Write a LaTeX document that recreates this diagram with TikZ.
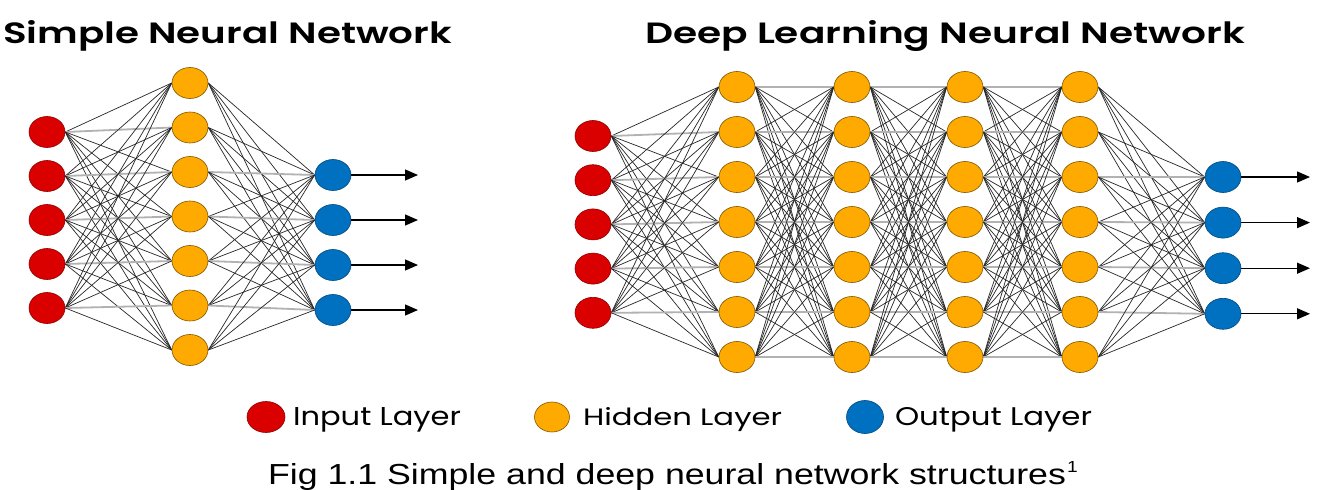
\documentclass[tikz,border=0pt]{standalone}
\usepackage{fontspec}
\usepackage{graphicx}
\setmainfont{Liberation Sans}
\newfontfamily\poppins{Poppins}
\newfontfamily\poppinssb{Poppins SemiBold}
\usetikzlibrary{shapes.geometric,arrows.meta,backgrounds}
\definecolor{inred}{RGB}{218,0,0}
\definecolor{hidor}{RGB}{255,170,0}
\definecolor{outbl}{RGB}{0,112,192}
\tikzset{
  neuron/.style={ellipse,minimum width=36pt,minimum height=31pt,inner sep=0pt,line width=0.6pt},
  inpn/.style={neuron,fill=inred,draw=inred!65!black},
  hidn/.style={neuron,fill=hidor,draw=hidor!50!black},
  outn/.style={neuron,fill=outbl,draw=outbl!65!black},
  edge/.style={draw=black!85,line width=0.7pt},
  hedge/.style={draw=black!30,line width=1.8pt},
  arr/.style={draw=black,line width=1.3pt,-{Triangle[length=13pt,width=11pt]}},
  txt/.style={anchor=base west,inner sep=0pt,outer sep=0pt}
}
\newcommand\connectlayers[5]{%
  \foreach \a in {1,...,#2}{%
    \foreach \b in {1,...,#4}{%
      \pgfmathtruncatemacro\dd{\b-\a-(#5)}%
      \ifnum\dd=0
        \draw[hedge] (#1-\a.east) -- (#3-\b.west);
      \else
        \draw[edge] (#1-\a.east) -- (#3-\b.west);
      \fi
    }%
  }%
}
\begin{document}
\begin{tikzpicture}[x=1pt,y=-1pt]
\useasboundingbox (0,0) rectangle (1318,490);
% ---------- titles
\node[txt] (t1) at (3,43) {\resizebox{449pt}{23pt}{\poppinssb Simple Neural Network}};
\node[txt] (t2) at (645,43) {\resizebox{600pt}{23pt}{\poppinssb Deep Learning Neural Network}};
% ---------- simple network nodes
\foreach \k in {1,...,5} \node[inpn] (si-\k) at (47,{132+44*(\k-1)}) {};
\foreach \k in {1,...,7} \node[hidn] (sh-\k) at (190,{83+44.5*(\k-1)}) {};
\foreach \k in {1,...,4} {
  \node[outn] (so-\k) at (333,{175+45*(\k-1)}) {};
  \coordinate (se-\k) at (418,{175+45*(\k-1)});
}
% ---------- deep network nodes
\foreach \k in {1,...,5} \node[inpn] (di-\k) at (593,{136+44.2*(\k-1)}) {};
\foreach \x/\n in {737/da,852/db,965/dc,1080/dd}
  \foreach \k in {1,...,7} \node[hidn] (\n-\k) at (\x,{87+45*(\k-1)}) {};
\foreach \k in {1,...,4} {
  \node[outn] (do-\k) at (1223,{177+45.6*(\k-1)}) {};
  \coordinate (de-\k) at (1310,{177+45.6*(\k-1)});
}
% ---------- connectors
\begin{scope}[on background layer]
  \fill[white] (0,0) rectangle (1318,490);
  \connectlayers{si}{5}{sh}{7}{1}
  \connectlayers{sh}{7}{so}{4}{-2}
  \connectlayers{di}{5}{da}{7}{1}
  \connectlayers{da}{7}{db}{7}{0}
  \connectlayers{db}{7}{dc}{7}{0}
  \connectlayers{dc}{7}{dd}{7}{0}
  \connectlayers{dd}{7}{do}{4}{-2}
\end{scope}
\foreach \k in {1,...,4} {
  \draw[arr] (so-\k.east) -- (se-\k);
  \draw[arr] (do-\k.east) -- (de-\k);
}
% ---------- legend
\node[inpn,minimum width=38pt,minimum height=31pt] (li) at (266,417) {};
\node[txt] (lit) at (293,425) {\resizebox{168pt}{18pt}{\poppins Input Layer}};
\node[hidn,minimum width=35pt,minimum height=30pt] (lh) at (552,417) {};
\node[txt] (lht) at (583,425) {\resizebox{199pt}{18pt}{\poppins Hidden Layer}};
\node[outn,minimum width=37pt,minimum height=33pt] (lo) at (865,417) {};
\node[txt] (lot) at (895,425) {\resizebox{197pt}{18pt}{\poppins Output Layer}};
% ---------- caption
\node[txt] (cap) at (268,484) {\resizebox{798pt}{21pt}{Fig 1.1 Simple and deep neural network structures}\hspace{1pt}\raisebox{12pt}{\scalebox{1.2}[1]{\fontsize{16}{16}\selectfont 1}}};
\end{tikzpicture}
\end{document}
